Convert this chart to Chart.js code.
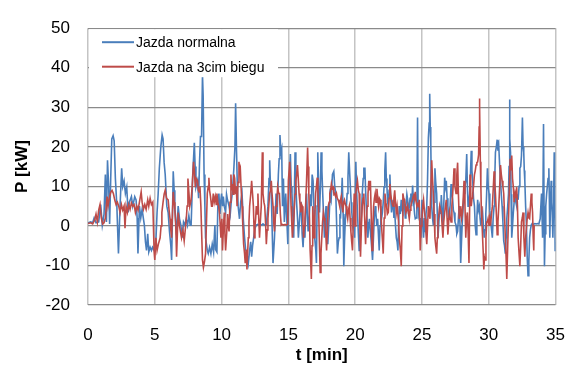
<!DOCTYPE html>
<html>
<head>
<meta charset="utf-8">
<script src="https://cdn.jsdelivr.net/npm/chart.js@4.4.1/dist/chart.umd.min.js"></script>
<style>
  html, body { margin: 0; padding: 0; background: #fff; }
</style>
</head>
<body>
<canvas id="chart" width="585" height="372"></canvas>
<script>
// [t (min), P (kW)]
const jazdaNormalna = [
  [0,0.8],[0.2,1],[0.35,0.8],[0.46,2],[0.6,0.8],[0.8,1],[0.95,5.4],[1.07,0.2],[1.2,3],[1.3,13],[1.38,1],[1.46,16.6],[1.55,9.8],[1.62,0.5],[1.7,12],[1.78,22],[1.88,22.8],[1.96,21.5],[2.05,12],[2.16,5],[2.28,-7],[2.4,5],[2.52,14.6],[2.6,10],[2.7,11.4],[2.8,8.2],[2.9,9.8],[3.0,3.4],[3.1,6],[3.25,7.4],[3.35,5],[3.5,7.4],[3.6,6.6],[3.68,2],[3.74,-7],[3.85,5],[3.95,2],[4.05,4.2],[4.15,1.8],[4.22,0.2],[4.3,-4],[4.38,-6.2],[4.47,-2],[4.55,-6.6],[4.65,-5.4],[4.75,-6.2],[4.83,-5.4],[4.92,-6],[5.0,-5],[5.08,-4],
  [5.17,3.4],[5.25,8],[5.34,14.6],[5.45,20],[5.55,23],[5.62,22],[5.7,16],[5.78,13],[5.9,5],[6.0,3.4],[6.1,-1.4],[6.2,-5],[6.26,-8.6],[6.32,2],[6.38,13.8],[6.45,9],[6.5,5],[6.57,1],[6.63,-2.2],[6.7,2],[6.75,5],[6.85,1.8],[6.95,0.2],[7.05,-3],[7.15,1],[7.25,0.2],[7.35,1.8],[7.45,0.2],[7.55,2.6],[7.65,0.2],[7.72,0.2],[7.84,13],[7.96,21],[8.02,15],[8.08,9.8],[8.2,11.4],[8.28,7],[8.35,16.2],[8.42,22.6],[8.5,22.6],[8.57,38.2],[8.62,33],[8.69,13],[8.75,5],[8.8,-3],[8.93,-6.2],[9.0,-7],[9.1,-5.4],[9.2,-7],[9.3,-4.6],[9.4,-6.6],[9.5,0.2],[9.55,-6],[9.65,-6.6],[9.72,5],[9.8,8.2],[9.88,3],[9.95,6.6],[10.0,8.2],
  [10.07,5],[10.13,7.4],[10.2,5],[10.3,3.4],[10.37,8],[10.44,6.6],[10.56,5],[10.65,3],[10.72,6],[10.8,8.2],[10.92,14.6],[11.0,20],[11.05,31],[11.12,18.6],[11.18,10],[11.24,5],[11.34,1.8],[11.43,6],[11.53,8.2],[11.62,2],[11.72,-3],[11.8,-6],[11.9,-7],[12.0,-9.4],[12.1,-6.2],[12.18,-4],[12.25,-7.8],[12.32,-5],[12.4,-3],[12.5,-0.6],[12.6,0.2],[12.7,0.4],[12.8,0.2],[12.9,0.4],[13.0,0.2],[13.1,0.5],[13.2,0.2],[13.35,0.4],[13.47,5],[13.55,12],[13.6,16.6],[13.66,10],[13.72,8.2],[13.78,0],[13.85,-9.4],[13.96,-3],[14.08,8.2],[14.16,3],[14.25,13],[14.31,17],[14.37,23],[14.44,18.6],[14.5,19.5],[14.56,5],[14.63,12],[14.7,1],[14.8,8.2],[14.9,0.2],[14.96,-4.6],
  [15.0,5],[15.08,12],[15.15,18.2],[15.21,10],[15.27,8.2],[15.34,2],[15.4,-3],[15.5,18.6],[15.56,10],[15.63,5],[15.7,1],[15.75,-3],[15.87,3.4],[15.95,6],[16.03,-2],[16.1,-5.4],[16.17,0],[16.24,-3],[16.3,4],[16.36,8.2],[16.42,3],[16.48,-1.4],[16.55,2],[16.65,8],[16.72,5],[16.78,13],[16.85,11.4],[16.92,4],[16.97,-3],[17.05,-6],[17.1,-9.4],[17.15,5],[17.2,18.6],[17.27,10],[17.33,3.4],[17.4,10],[17.45,18.6],[17.51,14],[17.57,8.2],[17.63,3],[17.7,-3],[17.76,2],[17.82,5],[17.88,0],[17.95,-4.6],[18.05,2],[18.12,8],[18.2,6.6],[18.3,13],[18.4,13.8],[18.47,10],[18.55,8.2],[18.6,2],[18.67,-7],[18.74,-4],[18.8,-3],[18.86,3],[18.9,1.8],[18.97,7],[19.03,12.2],[19.1,3],[19.15,-10.2],[19.21,-3],[19.27,1.8],[19.33,4],[19.4,8.2],[19.46,12],[19.52,18.6],[19.58,14],[19.63,10.6],[19.7,6],[19.75,3.4],[19.82,0.2],[19.9,1.8],[19.96,-3],
  [20.05,16.2],[20.11,9],[20.17,3.4],[20.24,-2],[20.3,-6.2],[20.35,-3],[20.4,-1.4],[20.47,3],[20.53,8.2],[20.6,12],[20.65,14.6],[20.73,14.6],[20.78,9],[20.83,5],[20.9,1],[20.95,-3],[21.01,0],[21.07,1.8],[21.13,-1],[21.2,-3.8],[21.25,-6],[21.3,-8.6],[21.37,-3],[21.43,1.8],[21.5,5],[21.55,3.4],[21.62,0],[21.68,1.8],[21.74,-2],[21.8,-6.2],[21.86,0],[21.92,5],[21.98,2],[22.04,3.4],[22.1,6],[22.16,9.8],[22.22,14],[22.28,18.6],[22.33,12],[22.38,9.8],[22.43,6],[22.48,5],[22.54,9],[22.6,13],[22.66,7],[22.72,3.4],[22.78,5],[22.84,6.6],[22.9,2],[22.96,3.4],[23.02,0],[23.08,-3],[23.14,-4],[23.2,-6.2],[23.25,0],[23.3,5],[23.38,3],[23.45,6.6],[23.51,4],[23.57,3.4],[23.63,6],[23.7,5],[23.75,2],[23.8,5],[23.87,8],[23.93,6.6],[24.0,3],[24.05,5],[24.11,7],[24.17,8.2],[24.23,5],[24.3,10.2],[24.35,7],[24.4,5],[24.45,3],[24.5,1.8],[24.57,2],[24.62,5],[24.67,27.4],[24.71,6.6],[24.78,2],[24.85,1],[24.92,-3],[25.0,6.6],
  [25.06,0],[25.12,-3],[25.18,2],[25.24,-1.4],[25.3,3],[25.36,5],[25.42,12],[25.48,22.2],[25.54,26],[25.58,33.4],[25.62,25],[25.66,21],[25.7,10],[25.73,5],[25.79,2],[25.85,0.2],[25.91,6],[25.97,14.6],[26.03,11],[26.1,8.2],[26.15,3],[26.2,-3],[26.27,1],[26.33,5],[26.4,3],[26.45,7.8],[26.51,4],[26.57,0.2],[26.63,5],[26.7,12.2],[26.76,10],[26.82,11.4],[26.88,7],[26.94,5],[27.0,2],[27.06,1.8],[27.12,6],[27.18,10.6],[27.24,8],[27.3,6.6],[27.35,4],[27.4,3.4],[27.47,1],[27.55,0.2],[27.61,-2],[27.67,-1.4],[27.73,2],[27.79,5],[27.85,0],[27.9,-9.4],[27.97,-3],[28.03,1.8],[28.09,5],[28.15,8.2],[28.22,10],[28.28,11.4],[28.35,18.2],[28.4,10],[28.45,5],[28.51,6],[28.57,8.2],[28.63,13],[28.69,19],[28.74,14],[28.8,11.4],[28.86,7],[28.93,5],[28.99,0],[29.05,-2.2],[29.11,2],[29.17,6.6],[29.23,4],[29.3,5],[29.35,2],[29.4,0.2],[29.47,2],[29.54,3.4],[29.6,0],[29.66,-3],[29.72,-1],[29.78,3],[29.84,8],[29.9,14.6],[29.96,10],
  [30.02,8.2],[30.08,4],[30.15,1],[30.21,-1],[30.27,-3],[30.33,2],[30.4,5],[30.45,12],[30.5,18.6],[30.57,20],[30.63,21.8],[30.69,19],[30.75,20.2],[30.82,15],[30.88,11.4],[30.94,8],[31.0,5],[31.06,1],[31.12,-3.8],[31.18,-5],[31.24,-7],[31.3,-3],[31.35,1.8],[31.42,5],[31.48,8.2],[31.52,15],[31.55,32],[31.59,22],[31.63,18.6],[31.67,8],[31.72,-3],[31.78,0],[31.84,3.4],[31.9,6],[31.97,8.2],[32.03,6],[32.09,5],[32.15,8],[32.2,6.6],[32.27,10],[32.33,14.6],[32.39,15],[32.45,17.8],[32.52,27.4],[32.57,20],[32.62,18.6],[32.66,14],[32.7,11.4],[32.76,5],[32.82,0.2],[32.88,-8],[32.94,-12.6],[33.0,-9],[33.06,-3],[33.12,-1],[33.18,0.2],[33.25,0.6],[33.35,0.4],[33.45,0.6],[33.55,0.5],[33.65,0.6],[33.75,0.5],[33.85,1.8],[33.95,8.2],[34.03,-3],[34.1,25.8],[34.14,5],[34.17,-10.2],[34.22,-2],[34.27,5],[34.33,8],[34.38,9.8],[34.44,12],[34.5,14.6],[34.54,6],[34.57,-3],[34.62,5],[34.67,11.4],[34.71,6],[34.75,3.4],[34.8,-3],[34.85,5],[34.9,18.6],[34.94,8],[34.97,-6.2],[35.0,-4]
];

const jazda3bieg = [
  [0,0.6],[0.2,0.8],[0.35,0.5],[0.5,1.5],[0.6,3],[0.7,1],[0.8,4],[0.9,5.4],[1.0,2],[1.1,0.5],[1.2,0.8],[1.3,2],[1.43,7.4],[1.5,5],[1.6,7],[1.7,8.5],[1.8,9],[1.9,8.2],[2.0,6.6],[2.1,5.4],[2.2,6],[2.3,5],[2.4,3.4],[2.5,5.4],[2.6,4],[2.7,5],[2.77,-0.6],[2.85,5],[2.95,3.4],[3.05,5.4],[3.15,4.2],[3.25,5.8],[3.35,5],[3.45,5.4],[3.55,3.4],[3.65,5],[3.75,4],[3.85,6],[3.98,8.6],[4.05,6],[4.15,4.2],[4.25,5.4],[4.35,4.2],[4.47,6.6],[4.55,5],[4.65,7],[4.75,5.4],[4.85,6],[4.95,-6.6],
  [5.0,-8.6],[5.08,-3],[5.17,-6.2],[5.27,-4.6],[5.4,-3],[5.47,0],[5.53,3.4],[5.62,6],[5.7,8],[5.78,9],[5.88,7],[6.0,6.6],[6.07,4],[6.14,1.8],[6.2,-1],[6.26,-3],[6.32,3],[6.38,8.6],[6.45,6],[6.5,4.2],[6.57,0],[6.63,-7.8],[6.7,-1],[6.75,3.4],[6.85,0],[6.95,-2],[7.0,-3],[7.1,-1],[7.2,-3.8],[7.28,-1],[7.36,1.8],[7.42,5],[7.48,12],[7.55,8.6],[7.62,5],[7.72,6.6],[7.8,10],[7.9,16.2],[7.96,14],[8.03,9.8],[8.1,12],[8.2,11.4],[8.26,9],[8.32,8.6],[8.38,10],[8.45,5],[8.51,-2],[8.57,-8.6],[8.64,-10.5],[8.72,-9],[8.8,-7],[8.86,0],[8.93,8.2],[9.0,10],[9.05,12.2],[9.1,9],[9.17,7.4],[9.25,5],[9.3,5],[9.38,8.2],[9.45,6],[9.53,7.4],[9.6,5.4],[9.65,8.2],[9.72,6],[9.78,5],[9.85,3],[9.95,-3],[10.02,1.8],
  [10.07,-6.2],[10.13,-1],[10.2,3.4],[10.25,-2],[10.3,-6.2],[10.38,-2],[10.45,3],[10.5,0],[10.56,-1.4],[10.63,6],[10.7,13],[10.75,9],[10.8,10.6],[10.86,8],[10.92,13],[10.98,12],[11.05,8],[11.1,10],[11.16,5],[11.23,11],[11.3,16.2],[11.35,14],[11.4,14.6],[11.47,9],[11.53,5],[11.58,1],[11.65,-4.6],[11.72,-7],[11.77,-9.4],[11.85,-6],[11.9,-11],[11.95,-7],[12.0,-3],[12.05,1],[12.1,5],[12.18,8],[12.25,11.4],[12.32,8],[12.38,5],[12.45,-3],[12.5,0],[12.55,1.8],[12.6,5],[12.66,3],[12.72,8.2],[12.78,2],[12.84,-3],[12.9,1],[12.97,5],[13.05,18.6],[13.1,8.2],[13.17,6],[13.23,5],[13.29,1],[13.35,-4.6],[13.41,-1],[13.47,1.8],[13.53,5],[13.6,8.2],[13.66,9],[13.72,11.4],[13.78,8],[13.85,5],[13.9,1],[13.96,-1.4],[14.02,2],[14.08,5],[14.14,7],[14.2,9.8],[14.27,8.2],[14.33,8.2],[14.4,3],[14.46,0.2],[14.55,0.4],[14.65,0.2],[14.75,0.4],[14.85,0.2],[14.95,0.4],
  [15.0,11.4],[15.1,16.2],[15.15,12],[15.2,5],[15.25,1],[15.3,-3],[15.36,0],[15.43,3.4],[15.5,8],[15.56,11.4],[15.62,13],[15.68,15.4],[15.74,12],[15.8,8.2],[15.86,6],[15.92,3.4],[15.98,5.5],[16.04,5],[16.09,1],[16.14,-3],[16.19,0],[16.24,1.8],[16.3,6],[16.36,11.4],[16.44,19.8],[16.48,15],[16.53,8.2],[16.58,2],[16.63,-6.2],[16.68,-10],[16.72,-13.4],[16.77,-5],[16.82,5],[16.88,1],[16.92,-3],[16.98,2],[17.04,8.2],[17.1,10],[17.16,12.2],[17.21,9],[17.26,5],[17.32,-4],[17.38,-11.8],[17.44,-7],[17.5,-3],[17.56,1],[17.62,3.4],[17.68,2],[17.74,1],[17.8,-2],[17.86,-6.2],[17.92,-1],[17.99,5],[18.05,6],[18.1,8.2],[18.16,9],[18.22,10.6],[18.28,9.5],[18.35,9.8],[18.41,8],[18.47,8.2],[18.53,7.5],[18.6,8.2],[18.66,7],[18.72,6.6],[18.78,6],[18.84,5],[18.9,6.5],[18.96,7.4],[19.02,5],[19.08,3.4],[19.14,6],[19.2,6.6],[19.26,5.5],[19.32,5],[19.38,3],[19.44,1.8],[19.5,4],[19.56,5],[19.62,2],[19.68,-1.4],[19.74,-4],[19.8,-6.2],[19.86,1],[19.93,8.2],[19.99,0],
  [20.05,8.2],[20.11,10],[20.17,11.4],[20.24,9],[20.3,8.2],[20.35,0],[20.4,-7.8],[20.47,0],[20.53,5],[20.59,7],[20.65,8.2],[20.71,2],[20.78,-4.6],[20.84,1],[20.9,5],[20.96,8],[21.02,11.4],[21.08,9],[21.14,11.4],[21.2,3],[21.26,-6.2],[21.32,-1],[21.38,5],[21.44,7],[21.5,8.2],[21.56,6],[21.63,9.4],[21.69,7],[21.75,5],[21.81,7],[21.87,6.6],[21.93,3],[22.0,-1.4],[22.05,-4],[22.1,-7],[22.17,2],[22.23,8.2],[22.29,6],[22.35,5],[22.41,3],[22.48,3.4],[22.54,7],[22.6,10.6],[22.66,8],[22.72,6.6],[22.78,5.5],[22.84,5],[22.9,7],[22.96,9],[23.02,6],[23.08,3.4],[23.14,5],[23.2,5],[23.25,1],[23.3,-3],[23.38,-6],[23.45,-10.2],[23.51,0],[23.57,8.2],[23.63,7],[23.7,6.6],[23.75,5],[23.8,3.4],[23.87,4],[23.93,5],[24.0,3],[24.05,1.8],[24.11,4],[24.17,5],[24.23,6],[24.3,6.6],[24.35,7.5],[24.4,8.2],[24.45,7],[24.5,8.6],[24.57,6],[24.62,5],[24.68,5.5],[24.75,5],[24.8,6.6],[24.87,-6.2],[24.94,0],
  [25.0,1.8],[25.06,5],[25.12,6.6],[25.18,4],[25.24,1.8],[25.3,-2],[25.36,-4.6],[25.42,0],[25.48,5],[25.54,3],[25.6,1.8],[25.66,9],[25.73,16.6],[25.79,12],[25.85,8.2],[25.91,3],[25.97,-3],[26.03,-5],[26.1,-7],[26.15,-3],[26.2,1],[26.27,3],[26.33,5],[26.39,4],[26.45,3.4],[26.51,0],[26.57,-3],[26.63,1],[26.7,3.4],[26.76,5],[26.82,6.6],[26.88,2],[26.94,-2.2],[27.0,1],[27.06,3.4],[27.12,2],[27.18,1],[27.24,5],[27.3,8.2],[27.35,11],[27.4,14.6],[27.47,10],[27.55,8.2],[27.61,13],[27.67,16],[27.73,8],[27.79,1.8],[27.85,3],[27.9,5],[27.97,2],[28.03,3.4],[28.09,7],[28.15,11.4],[28.22,5],[28.28,-3],[28.34,2],[28.4,3.4],[28.46,-2],[28.52,-9.4],[28.56,2],[28.6,13],[28.65,8],[28.69,5],[28.75,7],[28.8,8.2],[28.86,10],[28.93,13],[28.99,14],[29.05,15.4],[29.11,16],[29.17,16.2],[29.24,18],[29.28,25],[29.3,32.2],[29.33,30],[29.37,16.2],[29.41,10],[29.44,5],[29.49,1],[29.54,-3],[29.59,-7],[29.63,-11],[29.68,-8],[29.73,-8.6],[29.79,-3],[29.85,1],[29.9,1],[29.95,1.8],
  [30.02,0.2],[30.08,2],[30.15,1],[30.21,3],[30.27,5],[30.33,9],[30.4,13.8],[30.45,11],[30.5,8.2],[30.57,3],[30.63,-2.2],[30.69,1],[30.75,5],[30.82,10],[30.88,15.4],[30.94,13],[31.0,11.4],[31.06,10],[31.12,8.2],[31.18,3],[31.24,-3],[31.3,-8],[31.35,-13.4],[31.42,-5],[31.48,1.8],[31.54,9],[31.6,17],[31.66,14],[31.72,17.8],[31.78,12],[31.84,9.8],[31.9,6],[31.97,8.2],[32.03,7],[32.09,9.8],[32.15,5],[32.2,-3],[32.27,-7],[32.33,-10.2],[32.39,-5],[32.45,1],[32.51,2],[32.57,3.4],[32.63,-3],[32.7,-7.8],[32.76,-3],[32.82,-0.6],[32.88,2],[32.94,3.4],[33.0,2],[33.06,1.8],[33.12,5],[33.18,8.2],[33.23,6],[33.28,3.4],[33.33,-3],[33.37,-6.2],[33.4,0.2]
];

const seriesNames = ["Jazda normalna", "Jazda na 3cim biegu"];
const seriesColors = ["#4a7ebb", "#be4b48"];
const xTicks = { min: 0, max: 35, step: 5 };
const yTicks = { min: -20, max: 50, step: 10 };

const toPoints = rows => rows.map(([t, p]) => ({ x: t, y: p }));

const fontFamily = "'Liberation Sans', Arial, sans-serif";

// legend sits inside the plot, on a white box that hides the 40 kW gridline
const insideLegend = {
  id: "insideLegend",
  afterDatasetsDraw(chart) {
    const ctx = chart.ctx;
    const area = chart.chartArea;
    ctx.save();
    ctx.fillStyle = "#fff";
    ctx.fillRect(area.left + 1, area.top + 1, 189, 48);
    ctx.font = "14px " + fontFamily;
    ctx.textBaseline = "middle";
    ctx.fillStyle = "#000";
    seriesNames.forEach((name, i) => {
      const y = area.top + 14 + i * 24.5;
      ctx.strokeStyle = seriesColors[i];
      ctx.lineWidth = 2;
      ctx.beginPath();
      ctx.moveTo(area.left + 14, y);
      ctx.lineTo(area.left + 46, y);
      ctx.stroke();
      ctx.fillText(name, area.left + 48, y + 1);
    });
    ctx.restore();
  }
};

new Chart(document.getElementById("chart"), {
  type: "line",
  data: {
    datasets: [
      {
        label: seriesNames[0],
        data: toPoints(jazdaNormalna),
        borderColor: seriesColors[0],
        borderWidth: 1.6,
        pointRadius: 0,
        tension: 0,
        order: 1
      },
      {
        label: seriesNames[1],
        data: toPoints(jazda3bieg),
        borderColor: seriesColors[1],
        borderWidth: 1.6,
        pointRadius: 0,
        tension: 0,
        order: 0
      }
    ]
  },
  options: {
    responsive: false,
    animation: false,
    devicePixelRatio: 1,
    layout: { padding: { top: 12, right: 16, left: 0, bottom: 0 } },
    plugins: {
      legend: { display: false },
      tooltip: { enabled: false }
    },
    scales: {
      x: {
        type: "linear",
        min: xTicks.min,
        max: xTicks.max,
        afterFit: s => { s.height = 67; },
        ticks: {
          stepSize: xTicks.step,
          color: "#000",
          padding: 20,
          maxRotation: 0,
          font: { family: fontFamily, size: 17 }
        },
        grid: { color: "#c4c4c4", lineWidth: 1.5, drawTicks: false },
        border: { display: false },
        title: {
          display: true,
          text: "t [min]",
          color: "#000",
          padding: { top: 0, bottom: 6 },
          font: { family: fontFamily, size: 17, weight: "bold" }
        }
      },
      y: {
        min: yTicks.min,
        max: yTicks.max,
        afterFit: s => { s.width = 88; },
        ticks: {
          stepSize: yTicks.step,
          color: "#000",
          padding: 18,
          font: { family: fontFamily, size: 17 }
        },
        grid: { color: "#8a8a8a", lineWidth: 1.2, drawTicks: false },
        border: { display: false },
        title: {
          display: true,
          text: "P [kW]",
          color: "#000",
          padding: { top: 12, bottom: 0 },
          font: { family: fontFamily, size: 17, weight: "bold" }
        }
      }
    }
  },
  plugins: [insideLegend]
});
</script>
</body>
</html>
